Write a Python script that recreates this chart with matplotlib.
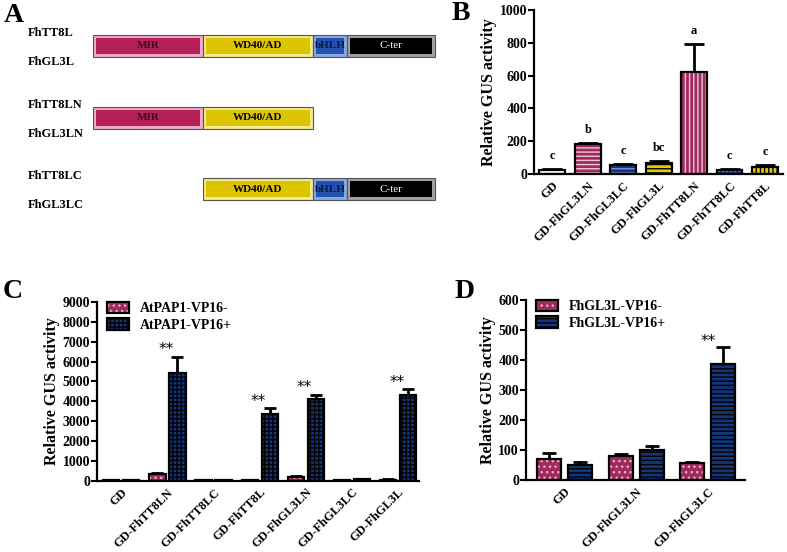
import numpy as np
import matplotlib
matplotlib.use('Agg')
import matplotlib.pyplot as plt
from matplotlib.patches import Rectangle, Patch

plt.rcParams['font.family'] = ['Liberation Serif', 'DejaVu Serif']
plt.rcParams['font.weight'] = 'bold'
plt.rcParams['axes.labelweight'] = 'bold'
plt.rcParams['hatch.linewidth'] = 1.0

MAROON = '#a02a5e'
BLUE = '#13357a'
YELLOW = '#e3cc00'

# ---- panel A: domain structure ----
domains = ['MIR', 'WD40/AD', 'bHLH', 'C-ter']
dom_start = [0, 110, 220, 254]
dom_end = [110, 220, 254, 342]
construct_tt8 = ['FhTT8L', 'FhTT8LN', 'FhTT8LC']
construct_gl3 = ['FhGL3L', 'FhGL3LN', 'FhGL3LC']
construct_domains = [[0, 1, 2, 3], [0, 1], [1, 2, 3]]

# ---- panel B ----
b_labels = ['GD', 'GD-FhGL3LN', 'GD-FhGL3LC', 'GD-FhGL3L',
            'GD-FhTT8LN', 'GD-FhTT8LC', 'GD-FhTT8L']
b_values = [22, 181, 55, 66, 624, 24, 42]
b_errors = [6, 10, 5, 16, 168, 8, 14]
b_letters = ['c', 'b', 'c', 'bc', 'a', 'c', 'c']

# ---- panel C ----
c_labels = ['GD', 'GD-FhTT8LN', 'GD-FhTT8LC', 'GD-FhTT8L',
            'GD-FhGL3LN', 'GD-FhGL3LC', 'GD-FhGL3L']
c_minus = [35, 330, 25, 25, 180, 40, 50]
c_minus_err = [8, 80, 5, 5, 60, 10, 15]
c_plus = [25, 5420, 45, 3350, 4100, 70, 4300]
c_plus_err = [5, 830, 10, 300, 220, 15, 300]
c_stars = ['', '**', '', '**', '**', '', '**']

# ---- panel D ----
d_labels = ['GD', 'GD-FhGL3LN', 'GD-FhGL3LC']
d_minus = [69, 81, 57]
d_minus_err = [22, 7, 3]
d_plus = [50, 99, 387]
d_plus_err = [11, 15, 57]
d_stars = ['', '', '**']

fig = plt.figure(figsize=(7.87, 5.52), dpi=100)


def hatched_bar(ax, x, h, w, face, hatch, hcolor, lw=1.6):
    ax.bar(x, h, w, color=face, hatch=hatch, edgecolor=hcolor, linewidth=0, zorder=2)
    ax.bar(x, h, w, fill=False, edgecolor='black', linewidth=lw, zorder=3)


def style_axes(ax, ylabel):
    for s in ['top', 'right']:
        ax.spines[s].set_visible(False)
    for s in ['left', 'bottom']:
        ax.spines[s].set_linewidth(1.6)
    ax.tick_params(axis='y', width=1.5, length=4, labelsize=10, pad=1)
    ax.tick_params(axis='x', length=0, labelsize=9, pad=4)
    ax.set_ylabel(ylabel, fontsize=11.5, labelpad=2, weight='bold')
    for t in ax.get_yticklabels():
        t.set_fontweight('bold')
    for t in ax.get_xticklabels():
        t.set_fontweight('bold')
        t.set_rotation(45)
        t.set_ha('right')
        t.set_rotation_mode('anchor')


def add_legend(ax, hatch, labels):
    handles = [(Patch(facecolor=MAROON, hatch='...', edgecolor='#e8b0c8', linewidth=0),
                Patch(fill=False, edgecolor='black', linewidth=1.6)),
               (Patch(facecolor=BLUE, hatch=hatch, edgecolor='black', linewidth=1.6),)]
    ax.legend(handles, labels, loc='upper left', frameon=False,
              prop={'size': 10, 'weight': 'bold'},
              bbox_to_anchor=(0.0, 1.055), handlelength=1.6, handleheight=0.9,
              labelspacing=0.2, handletextpad=0.8, borderaxespad=0.3)


# panel A
axa = fig.add_axes([0, 1 - 230 / 552, 440 / 787, 230 / 552])
axa.set_xlim(-93, 347)
axa.set_ylim(230, 0)
axa.axis('off')
dom_inner = ['#b8205a', '#dcc400', '#2352ae', 'black']
dom_border = ['#eeaacb', '#f4e98e', '#86a8e4', '#a0a0a0']
dom_text = ['#3a0a1e', 'black', '#0a1a50', 'white']
row_y = [46, 118, 189]
for r, doms in enumerate(construct_domains):
    y = row_y[r]
    for d in doms:
        x0, x1 = dom_start[d], dom_end[d]
        axa.add_patch(Rectangle((x0, y - 11), x1 - x0, 22, facecolor=dom_border[d],
                                edgecolor='#555555', linewidth=0.8))
        axa.add_patch(Rectangle((x0 + 3, y - 8), x1 - x0 - 6, 16, facecolor=dom_inner[d],
                                edgecolor='none'))
        axa.text((x0 + x1) / 2, y, domains[d], ha='center', va='center', fontsize=8,
                 color=dom_text[d], weight='normal' if d == 3 else 'bold')
    axa.text(-65, y - 13, construct_tt8[r], ha='left', va='center', fontsize=9)
    axa.text(-65, y + 16, construct_gl3[r], ha='left', va='center', fontsize=9)

# panel B
axb = fig.add_axes([534 / 787, 1 - 174 / 552, 249 / 787, 164 / 552])
xb = np.arange(len(b_labels))
b_face = ['white', MAROON, BLUE, YELLOW, MAROON, BLUE, YELLOW]
b_hatch = ['', '----', '----', '----', '||||', '....', '||||']
b_hcol = ['white', '#f0c8d8', '#6f8fd0', 'black', '#f0c8d8', '#8fb0f0', 'black']
axb.errorbar(xb, b_values, yerr=b_errors, fmt='none', ecolor='black', elinewidth=2,
             capsize=7.5, capthick=2, zorder=1)
for i in range(len(xb)):
    hatched_bar(axb, xb[i], b_values[i], 0.73, b_face[i], b_hatch[i], b_hcol[i])
for i in range(len(xb)):
    axb.annotate(b_letters[i], (xb[i], b_values[i] + b_errors[i]), xytext=(0, 5),
                 textcoords='offset points', ha='center', va='bottom', fontsize=9)
axb.set_xlim(-0.52, 6.51)
axb.set_ylim(0, 1000)
axb.set_yticks([0, 200, 400, 600, 800, 1000])
axb.set_xticks(xb)
axb.set_xticklabels(b_labels)
style_axes(axb, 'Relative GUS activity')

# panel C
axc = fig.add_axes([97 / 787, 1 - 480.7 / 552, 322 / 787, 178.7 / 552])
xc = np.arange(len(c_labels))
off, wc = 0.217, 0.35
axc.errorbar(xc - off, c_minus, yerr=c_minus_err, fmt='none', ecolor='black',
             elinewidth=2, capsize=4.5, capthick=2, zorder=1)
axc.errorbar(xc + off, c_plus, yerr=c_plus_err, fmt='none', ecolor='black',
             elinewidth=2, capsize=4.5, capthick=2, zorder=1)
for i in range(len(xc)):
    hatched_bar(axc, xc[i] - off, c_minus[i], wc, MAROON, '...', '#e8b0c8')
    hatched_bar(axc, xc[i] + off, c_plus[i], wc, BLUE, '++++', 'black')
    if c_stars[i]:
        axc.annotate(c_stars[i], (xc[i] + off, c_plus[i] + c_plus_err[i]), xytext=(-8, 5),
                     textcoords='offset points', ha='center', va='center', fontsize=11,
                     weight='normal', family='DejaVu Sans')
axc.set_xlim(-0.53, 6.46)
axc.set_ylim(0, 9000)
axc.set_yticks(np.arange(0, 9001, 1000))
axc.set_xticks(xc)
axc.set_xticklabels(c_labels)
style_axes(axc, 'Relative GUS activity')
add_legend(axc, '++++', ['AtPAP1-VP16-', 'AtPAP1-VP16+'])

# panel D
axd = fig.add_axes([526 / 787, 1 - 480 / 552, 219 / 787, 180 / 552])
xd = np.arange(len(d_labels))
off, wd = 0.217, 0.336
axd.errorbar(xd - off, d_minus, yerr=d_minus_err, fmt='none', ecolor='black',
             elinewidth=2, capsize=5, capthick=2, zorder=1)
axd.errorbar(xd + off, d_plus, yerr=d_plus_err, fmt='none', ecolor='black',
             elinewidth=2, capsize=5, capthick=2, zorder=1)
for i in range(len(xd)):
    hatched_bar(axd, xd[i] - off, d_minus[i], wd, MAROON, '...', '#e8b0c8')
    hatched_bar(axd, xd[i] + off, d_plus[i], wd, BLUE, '----', 'black')
    if d_stars[i]:
        axd.annotate(d_stars[i], (xd[i] + off, d_plus[i] + d_plus_err[i]), xytext=(-11, 4),
                     textcoords='offset points', ha='center', va='center', fontsize=11,
                     weight='normal', family='DejaVu Sans')
axd.set_xlim(-0.54, 2.52)
axd.set_ylim(0, 600)
axd.set_yticks(np.arange(0, 601, 100))
axd.set_xticks(xd)
axd.set_xticklabels(d_labels)
style_axes(axd, 'Relative GUS activity')
add_legend(axd, '----', ['FhGL3L-VP16-', 'FhGL3L-VP16+'])

# panel letters
for lab, px, py in [('A', 4, 22), ('B', 452, 20), ('C', 3, 298), ('D', 455, 298)]:
    fig.text(px / 787, 1 - py / 552, lab, fontsize=20, weight='bold')

fig.savefig('out.png', dpi=100)
